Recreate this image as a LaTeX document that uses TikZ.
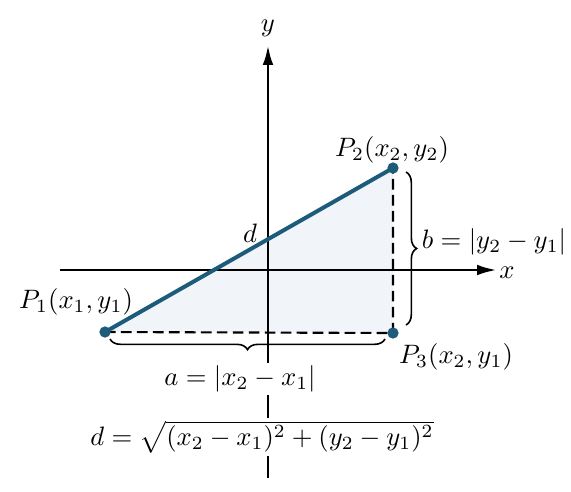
\documentclass[tikz,border=0pt]{standalone}
\usepackage{xcolor}
\usepackage{tikz}
\usetikzlibrary{backgrounds,calc,positioning,arrows.meta,decorations.pathreplacing}

\definecolor{segblue}{RGB}{28,92,122}
\definecolor{shadeblue}{RGB}{241,244,249}

\begin{document}
\begin{tikzpicture}[x=0.0132cm,y=-0.0132cm]
            \path[use as bounding box] (0,0) rectangle (571,491);

            \coordinate (xl) at (60,270);
            \coordinate (xr) at (497,270);
            \coordinate (yb) at (268,478);
            \coordinate (yt) at (268,45);
            \coordinate (p1) at (105,332);
            \coordinate (p2) at (393,168);
            \coordinate (p3) at (393,333);

            % axes
            \draw[line width=1.1pt, -{Latex[length=7.5pt,width=4pt]}] (xl) -- (xr);
            \draw[line width=1.1pt, -{Latex[length=7.5pt,width=4pt]}] (yb) -- (yt);
            \node (xlab) at (507,273) {$x$};
            \node (ylab) at (268,28) {$y$};

            % legs of the triangle
            \draw[line width=0.8pt, dash pattern=on 4pt off 2pt] (p1) -- (p3) -- (p2);
            \draw[segblue, line width=1.5pt] (p1) -- (p2);

            \draw[fill=segblue, draw=segblue] (p1) circle (1.9pt);
            \draw[fill=segblue, draw=segblue] (p2) circle (1.9pt);
            \draw[fill=segblue, draw=segblue] (p3) circle (1.9pt);

            \node (P1) at (76,302) {$P_1(x_1,y_1)$};
            \node (P2) at (392,150) {$P_2(x_2,y_2)$};
            \node (P3) at (456,357) {$P_3(x_2,y_1)$};
            \node (d) at (250,233) {$d$};

            % braces
            \coordinate (ba) at (385,339);
            \coordinate (bb) at (110,339);
            \coordinate (bc) at (406,172);
            \coordinate (bd) at (406,325);
            \draw[line width=0.6pt, decorate, decoration={brace, amplitude=4pt}] (ba) -- (bb);
            \draw[line width=0.6pt, decorate, decoration={brace, amplitude=4pt}] (bc) -- (bd);
            \node[fill=white, inner sep=1pt] (alab) at (240,379) {$a=|x_2-x_1|$};
            \node (blab) at (494,242) {$b=|y_2-y_1|$};

            \node[fill=white, inner sep=1pt] (dist) at (262,437) {$d=\sqrt{(x_2-x_1)^2+(y_2-y_1)^2}$};

            \begin{pgfonlayer}{background}
                \fill[shadeblue] (p1) -- (p2) -- (p3) -- cycle;
            \end{pgfonlayer}
        \end{tikzpicture}
\end{document}
